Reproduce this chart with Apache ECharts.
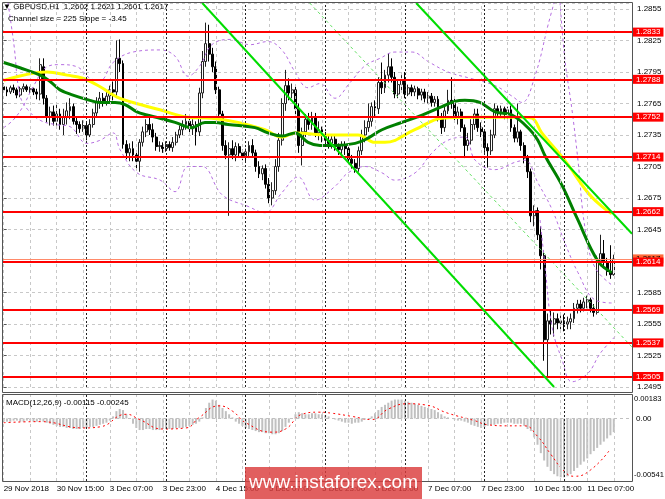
<!DOCTYPE html>
<html><head><meta charset="utf-8">
<script src="https://cdn.jsdelivr.net/npm/echarts@6/dist/echarts.min.js"></script>
<style>html,body{margin:0;padding:0;background:#fff}#c{width:665px;height:499px}</style>
</head><body><div id="c"></div>
<script>
// ---------- data ----------
const tickLabels = ["29 Nov 2018","30 Nov 15:00","3 Dec 07:00","3 Dec 23:00","4 Dec 15:00","5 Dec 07:00","5 Dec 23:00","6 Dec 15:00","7 Dec 07:00","7 Dec 23:00","10 Dec 15:00","11 Dec 07:00"];
const slotCount = 190;
// [open, close, low, high]
const candles = [
[1.2781,1.2778,1.2775,1.2784],[1.2778,1.2776,1.2772,1.2781],[1.2776,1.2780,1.2774,1.2782],[1.2780,1.2778,1.2775,1.2783],
[1.2778,1.2773,1.2770,1.2780],[1.2773,1.2779,1.2771,1.2781],[1.2779,1.2781,1.2776,1.2784],[1.2781,1.2778,1.2776,1.2783],
[1.2778,1.2779,1.2775,1.2781],[1.2779,1.2776,1.2773,1.2780],[1.2776,1.2774,1.2769,1.2779],[1.2774,1.2802,1.2768,1.2808],
[1.2800,1.2770,1.2764,1.2808],[1.2770,1.2752,1.2747,1.2773],[1.2752,1.2757,1.2744,1.2762],[1.2757,1.2748,1.2744,1.2763],
[1.2748,1.2755,1.2744,1.2765],[1.2755,1.2745,1.2740,1.2760],[1.2745,1.2752,1.2735,1.2760],[1.2752,1.2758,1.2745,1.2766],
[1.2758,1.2762,1.2750,1.2770],[1.2762,1.2748,1.2745,1.2765],[1.2748,1.2745,1.2736,1.2752],[1.2745,1.2741,1.2737,1.2748],
[1.2741,1.2744,1.2738,1.2749],[1.2744,1.2735,1.2730,1.2747],[1.2735,1.2745,1.2733,1.2750],[1.2745,1.2756,1.2742,1.2760],
[1.2756,1.2767,1.2752,1.2771],[1.2767,1.2770,1.2760,1.2776],[1.2770,1.2766,1.2762,1.2775],[1.2766,1.2772,1.2763,1.2776],
[1.2772,1.2778,1.2766,1.2782],[1.2778,1.2776,1.2768,1.2786],[1.2776,1.2808,1.2772,1.2825],[1.2808,1.2803,1.2795,1.2826],
[1.2803,1.2726,1.2722,1.2806],[1.2726,1.2718,1.2712,1.2730],[1.2718,1.2722,1.2710,1.2727],[1.2722,1.2716,1.2710,1.2729],
[1.2716,1.2710,1.2703,1.2720],[1.2710,1.2728,1.2700,1.2731],[1.2728,1.2738,1.2724,1.2743],[1.2738,1.2745,1.2733,1.2750],
[1.2745,1.2740,1.2735,1.2755],[1.2740,1.2733,1.2728,1.2746],[1.2733,1.2724,1.2720,1.2737],[1.2724,1.2725,1.2719,1.2729],
[1.2725,1.2722,1.2718,1.2728],[1.2722,1.2726,1.2719,1.2729],[1.2726,1.2723,1.2720,1.2729],[1.2723,1.2728,1.2719,1.2733],
[1.2728,1.2735,1.2725,1.2738],[1.2735,1.2740,1.2732,1.2744],[1.2740,1.2745,1.2735,1.2749],[1.2745,1.2748,1.2740,1.2755],
[1.2748,1.2741,1.2737,1.2752],[1.2741,1.2745,1.2735,1.2750],[1.2745,1.2738,1.2725,1.2748],[1.2738,1.2775,1.2734,1.2780],
[1.2775,1.2805,1.2770,1.2815],[1.2805,1.2822,1.2800,1.2842],[1.2822,1.2812,1.2805,1.2840],[1.2812,1.2800,1.2795,1.2818],
[1.2800,1.2778,1.2774,1.2805],[1.2778,1.2755,1.2750,1.2781],[1.2755,1.2725,1.2720,1.2758],[1.2725,1.2716,1.2712,1.2730],
[1.2716,1.2722,1.2658,1.2728],[1.2722,1.2716,1.2712,1.2730],[1.2716,1.2724,1.2710,1.2728],[1.2724,1.2718,1.2714,1.2727],
[1.2718,1.2715,1.2711,1.2721],[1.2715,1.2719,1.2709,1.2722],[1.2719,1.2725,1.2713,1.2729],[1.2725,1.2718,1.2714,1.2731],
[1.2718,1.2705,1.2700,1.2721],[1.2705,1.2698,1.2694,1.2710],[1.2698,1.2703,1.2692,1.2706],[1.2703,1.2688,1.2684,1.2707],
[1.2688,1.2675,1.2670,1.2694],[1.2675,1.2682,1.2668,1.2690],[1.2682,1.2705,1.2678,1.2712],[1.2705,1.2730,1.2700,1.2737],
[1.2730,1.2765,1.2725,1.2770],[1.2765,1.2782,1.2758,1.2797],[1.2782,1.2775,1.2768,1.2789],[1.2775,1.2778,1.2770,1.2784],
[1.2778,1.2760,1.2755,1.2782],[1.2760,1.2725,1.2718,1.2765],[1.2725,1.2738,1.2706,1.2742],[1.2738,1.2750,1.2733,1.2755],
[1.2750,1.2745,1.2740,1.2756],[1.2745,1.2752,1.2740,1.2757],[1.2752,1.2737,1.2733,1.2756],[1.2737,1.2740,1.2730,1.2748],
[1.2740,1.2735,1.2728,1.2743],[1.2735,1.2730,1.2725,1.2738],[1.2730,1.2727,1.2722,1.2734],[1.2727,1.2731,1.2722,1.2735],
[1.2731,1.2724,1.2720,1.2735],[1.2724,1.2721,1.2716,1.2727],[1.2721,1.2725,1.2717,1.2729],[1.2725,1.2722,1.2716,1.2729],
[1.2722,1.2712,1.2707,1.2725],[1.2712,1.2708,1.2703,1.2716],[1.2708,1.2703,1.2699,1.2712],[1.2703,1.2720,1.2700,1.2724],
[1.2720,1.2735,1.2716,1.2740],[1.2735,1.2742,1.2728,1.2749],[1.2742,1.2748,1.2738,1.2765],[1.2748,1.2762,1.2743,1.2766],
[1.2762,1.2760,1.2752,1.2768],[1.2760,1.2785,1.2755,1.2790],[1.2785,1.2780,1.2774,1.2804],[1.2780,1.2792,1.2775,1.2797],
[1.2792,1.2800,1.2785,1.2813],[1.2800,1.2790,1.2785,1.2808],[1.2790,1.2774,1.2770,1.2795],[1.2774,1.2783,1.2770,1.2788],
[1.2783,1.2787,1.2776,1.2792],[1.2787,1.2774,1.2770,1.2795],[1.2774,1.2780,1.2772,1.2783],[1.2780,1.2776,1.2772,1.2783],
[1.2776,1.2779,1.2772,1.2782],[1.2779,1.2773,1.2769,1.2781],[1.2773,1.2776,1.2768,1.2779],[1.2776,1.2770,1.2766,1.2779],
[1.2770,1.2772,1.2765,1.2776],[1.2772,1.2766,1.2762,1.2775],[1.2766,1.2769,1.2762,1.2772],[1.2769,1.2752,1.2748,1.2772],
[1.2752,1.2742,1.2736,1.2756],[1.2742,1.2758,1.2738,1.2762],[1.2758,1.2768,1.2755,1.2778],[1.2768,1.2765,1.2760,1.2790],
[1.2765,1.2752,1.2748,1.2770],[1.2752,1.2757,1.2745,1.2762],[1.2757,1.2742,1.2738,1.2760],[1.2742,1.2725,1.2713,1.2745],
[1.2725,1.2730,1.2720,1.2737],[1.2730,1.2745,1.2726,1.2750],[1.2745,1.2755,1.2740,1.2760],[1.2755,1.2742,1.2738,1.2760],
[1.2742,1.2738,1.2733,1.2747],[1.2738,1.2723,1.2718,1.2740],[1.2723,1.2720,1.2704,1.2727],[1.2720,1.2735,1.2716,1.2740],
[1.2735,1.2760,1.2732,1.2765],[1.2760,1.2757,1.2753,1.2763],[1.2757,1.2760,1.2753,1.2763],[1.2760,1.2755,1.2750,1.2762],
[1.2755,1.2759,1.2750,1.2762],[1.2759,1.2742,1.2738,1.2763],[1.2742,1.2732,1.2728,1.2745],[1.2732,1.2738,1.2728,1.2765],
[1.2738,1.2725,1.2720,1.2740],[1.2725,1.2713,1.2708,1.2728],[1.2713,1.2700,1.2694,1.2716],[1.2700,1.2658,1.2652,1.2703],
[1.2658,1.2663,1.2648,1.2668],[1.2663,1.2640,1.2635,1.2666],[1.2640,1.2620,1.2607,1.2648],[1.2620,1.2540,1.2520,1.2625],
[1.2540,1.2558,1.2505,1.2565],[1.2558,1.2555,1.2545,1.2568],[1.2555,1.2560,1.2543,1.2566],[1.2560,1.2556,1.2550,1.2565],
[1.2556,1.2558,1.2550,1.2563],[1.2558,1.2555,1.2548,1.2564],[1.2555,1.2557,1.2550,1.2562],[1.2557,1.2560,1.2550,1.2565],
[1.2560,1.2570,1.2556,1.2575],[1.2570,1.2574,1.2565,1.2578],[1.2574,1.2570,1.2566,1.2578],[1.2570,1.2576,1.2567,1.2580],
[1.2576,1.2578,1.2570,1.2582],[1.2578,1.2570,1.2566,1.2580],[1.2570,1.2566,1.2562,1.2574],[1.2566,1.2615,1.2564,1.2620],
[1.2615,1.2622,1.2610,1.2640],[1.2622,1.2614,1.2608,1.2635],[1.2614,1.2605,1.2601,1.2618],[1.2605,1.2602,1.2598,1.2630],
[1.2602,1.2617,1.2601,1.2621]
];
const macdHist = [
-0.0003,-0.0003,-0.0003,-0.0002,-0.0002,-0.0003,-0.0003,-0.0002,-0.0002,-0.0003,-0.0003,-0.0002,-0.0003,-0.0004,
-0.0005,-0.0006,-0.0007,-0.0008,-0.0008,-0.0009,-0.0009,-0.0010,-0.0010,-0.0010,-0.0009,
-0.0009,-0.0008,-0.0008,-0.0007,-0.0006,-0.0005,-0.0004,-0.0002,
0.0002,0.0007,0.0009,0.0008,
0.0004,0.0000,-0.0005,
-0.0009,-0.0011,-0.0011,-0.0010,-0.0010,-0.0011,-0.0011,-0.0011,-0.0010,
-0.0010,-0.0010,-0.0010,-0.0009,-0.0009,-0.0009,-0.0008,-0.0007,-0.0006,-0.0005,-0.0003,0.0001,
0.0010,0.0015,0.0018,0.0017,0.0013,
0.0010,0.0007,0.0004,0.0001,-0.0003,
-0.0005,-0.0007,-0.0009,-0.0010,-0.0011,-0.0012,-0.0013,-0.0013,-0.0014,-0.0014,-0.0015,-0.0015,-0.0014,-0.0012,-0.0008,-0.0004,0.0000,
0.0004,0.0006,0.0005,0.0004,0.0004,0.0005,0.0005,0.0004,0.0004,0.0003,0.0002,0.0000,
-0.0001,-0.0002,-0.0003,-0.0004,-0.0004,-0.0005,-0.0004,-0.0004,-0.0003,-0.0001,0.0000,0.0002,
0.0005,0.0008,0.0011,0.0013,0.0015,0.0017,0.0018,0.0018,0.0018,0.0017,
0.0016,0.0015,0.0014,0.0013,0.0012,0.0011,0.0010,0.0009,0.0008,0.0006,0.0004,
0.0002,0.0001,0.0000,-0.0001,-0.0002,-0.0002,-0.0003,-0.0004,-0.0006,
-0.0007,-0.0008,-0.0009,-0.0008,-0.0007,-0.0006,-0.0006,-0.0005,
-0.0005,-0.0004,-0.0004,-0.0004,-0.0005,-0.0005,-0.0005,-0.0007,-0.0010,
-0.0012,-0.0018,-0.0025,-0.0033,-0.0040,-0.0046,-0.0050,-0.0053,-0.0055,-0.0056,-0.0056,
-0.0055,-0.0053,-0.0050,-0.0047,-0.0044,-0.0041,-0.0038,-0.0034,-0.0031,-0.0028,-0.0025,-0.0022,-0.0019,-0.0016,-0.0013
];
const macdSignal = [[0,-0.0004],[11,-0.0003],[24,-0.0009],[29,-0.0008],[37,0.0004],[41,-0.0001],[48,-0.0010],[55,-0.0009],[59,0.0001],[65,0.0012],[69,0.0007],[73,-0.0004],[81,-0.0013],[85,-0.0010],[90,0.0004],[95,0.0006],[99,0.0005],[105,0.0002],[111,-0.0001],[116,0.0009],[122,0.0014],[127,0.0013],[134,0.0005],[142,-0.0002],[146,-0.0006],[152,-0.0007],[157,-0.0007],[161,-0.0017],[165,-0.0034],[169,-0.0050],[172,-0.0055],[177,-0.0049],[183,-0.0029]];
const yellowMA = [[0,1.2787],[13.1,1.2795],[19.1,1.2792],[23.9,1.2789],[29.1,1.2781],[34.2,1.2771],[39,1.2766],[47.1,1.2759],[55.6,1.2752],[62.8,1.2751],[70.7,1.2747],[78.8,1.2740],[84,1.2733],[87.9,1.2737],[97.8,1.2735],[106.9,1.2735],[112,1.2728],[115,1.2728],[124,1.2740],[132.2,1.2751],[142.1,1.2752],[156.2,1.2752],[159.3,1.2751],[162.3,1.2737],[169.2,1.2711],[176.2,1.2680],[180.4,1.2667],[183.4,1.2660]];
const greenMA = [[0,1.2804],[4.9,1.2799],[11,1.2792],[14,1.2786],[17,1.2778],[20.9,1.2773],[26,1.2768],[29,1.2766],[33.6,1.2766],[36.6,1.2764],[40.2,1.2757],[43.2,1.2754],[47.1,1.2751],[51.7,1.2747],[56.8,1.2742],[60.7,1.2747],[63.7,1.2747],[67.7,1.2745],[75.8,1.2742],[79.7,1.2737],[84,1.2734],[87.9,1.2737],[91.8,1.2728],[95.4,1.2725],[99.9,1.2725],[106,1.2727],[109.9,1.2732],[114.1,1.2740],[120.1,1.2747],[126.2,1.2754],[132.2,1.2762],[136.1,1.2767],[139.1,1.2768],[143.6,1.2766],[148.2,1.2757],[153.3,1.2754],[158.7,1.2740],[161.1,1.2730],[163.3,1.2715],[168.4,1.2687],[172.9,1.2656],[179.2,1.2615],[183.4,1.2604]];
const bandUpper = [[0,1.2742],[2.8,1.2749],[5.8,1.2762],[8.9,1.2781],[13.1,1.2800],[17,1.2802],[22.1,1.2800],[26,1.2789],[29.1,1.2787],[33,1.2804],[39,1.2814],[47.2,1.2816],[51.7,1.2810],[55.6,1.2791],[59.2,1.2801],[62.8,1.2821],[68.3,1.2826],[74.3,1.2821],[79.7,1.2824],[83.9,1.2816],[87.9,1.2795],[91.8,1.2780],[95.4,1.2784],[99.9,1.2770],[104.5,1.2785],[109,1.2801],[113.5,1.2808],[118,1.2814],[123.2,1.2814],[128,1.2805],[134,1.2795],[140.7,1.2789],[148.2,1.2782],[153.3,1.2772],[156.3,1.2766],[160.3,1.2792],[164.2,1.2840],[166,1.2861]];
const bandLower = [[1.3,1.2861],[3.1,1.2821],[4.9,1.2773],[7.3,1.2759],[11,1.2749],[15.5,1.2745],[20,1.2743],[25.1,1.2727],[29.1,1.2730],[33,1.2737],[35.1,1.2721],[40.2,1.2699],[47.2,1.2692],[51.7,1.2681],[55.6,1.2705],[59.8,1.2705],[65.9,1.2678],[73.7,1.2667],[78.8,1.2661],[83.9,1.2680],[88.8,1.2695],[93.9,1.2673],[99.9,1.2686],[103.9,1.2699],[109,1.2705],[114.1,1.2699],[118,1.2692],[124.1,1.2699],[129.2,1.2718],[134,1.2730],[139.1,1.2733],[142.2,1.2711],[148.2,1.2702],[154.2,1.2709],[157.2,1.2711],[161.2,1.2689],[165.4,1.2664],[169.3,1.2632],[173.2,1.2604],[178.3,1.2578],[183.5,1.2575]];
const bandUpperReturn = [[167.8,1.2861],[169.3,1.2806],[171.4,1.2759],[173.2,1.2711],[175.3,1.2647],[178.3,1.2609],[183.5,1.2592]];
const bandLowest = [[161.8,1.2654],[163.3,1.2609],[165.4,1.2552],[168.4,1.2521],[171.4,1.2500],[176.2,1.2508],[179.9,1.2527],[184.4,1.2543]];
const channelLower = [[59.9,1.28607],[166.0,1.2495]];
const channelUpper = [[124.4,1.28607],[189.5,1.2641]];
const channelMid = [[92.3,1.28607],[189.5,1.2533]];
const levels = [1.2833,1.2788,1.2752,1.2714,1.2662,1.2614,1.2569,1.2537,1.2505];
const currentPrice = 1.2617;
const macdLabelValues = [0.00183, -0.00541];
const gridLineIdx = [0,8,16,24,32,40,48,56,64,72,80,88,96,104,112,120,128,136,144,152,160,168,176,184];
const daySeparatorIdx = [25,49,73,97,121,145,169];

// ---------- chart ----------
const FONT = '"Liberation Sans", Arial, sans-serif';
const categories = Array.from({length: slotCount}, (_, i) => String(i));
const chart = echarts.init(document.getElementById('c'), null, {renderer: 'canvas'});

const vLines = [
  ...gridLineIdx.map(i => ({xAxis: i, lineStyle: {color: '#c8c8c8', type: [3, 3], width: 1}})),
  ...daySeparatorIdx.map(i => ({xAxis: i, lineStyle: {color: '#222', type: [2, 2], width: 1}}))
];
const vMark = {silent: true, symbol: ['none', 'none'], precision: 6, label: {show: false}, animation: false, data: vLines};

function overlay(data, color, width, type, z, smooth) {
  return {type: 'line', xAxisIndex: 1, yAxisIndex: 0, data, showSymbol: false, symbol: 'none',
    smooth: smooth, silent: true, z, lineStyle: {color, width, type}};
}
const PURPLE = '#b56ee0';

const option = {
  animation: false,
  backgroundColor: '#ffffff',
  textStyle: {fontFamily: FONT},
  title: [
    {text: '▼ GBPUSD,H1  1.2602 1.2621 1.2601 1.2617', left: 3, top: 3, padding: 0,
     textStyle: {fontSize: 8, fontWeight: 'normal', color: '#000', fontFamily: FONT}},
    {text: 'Channel size = 225 Slope = -3.45', left: 8, top: 15, padding: 0,
     textStyle: {fontSize: 8, fontWeight: 'normal', color: '#000', fontFamily: FONT}},
    {text: 'MACD(12,26,9) -0.00115 -0.00245', left: 6, top: 399, padding: 0,
     textStyle: {fontSize: 8, fontWeight: 'normal', color: '#000', fontFamily: FONT}}
  ],
  grid: [
    {left: 2, right: 33, top: 3, height: 384},
    {left: 2, right: 33, top: 394, height: 87}
  ],
  xAxis: [
    {type: 'category', gridIndex: 0, data: categories, show: false},
    {type: 'value', gridIndex: 0, min: -0.5, max: slotCount - 0.5, show: false},
    {type: 'category', gridIndex: 1, data: categories,
     axisLine: {show: false},
     axisTick: {show: true, interval: 15, alignWithLabel: true, length: 3, lineStyle: {color: '#555'}},
     axisLabel: {interval: 15, align: 'left', margin: 4, fontSize: 8, color: '#000', fontFamily: FONT,
       formatter: (v, i) => (i % 16 === 0 && tickLabels[i / 16]) ? tickLabels[i / 16] : ''},
     splitLine: {show: false}}
  ],
  yAxis: [
    {type: 'value', gridIndex: 0, position: 'right', min: 1.2495, max: 1.28607, interval: 0.003,
     axisLine: {show: false},
     axisTick: {show: true, length: 3, lineStyle: {color: '#555'}},
     axisLabel: {showMaxLabel: false, margin: 5, fontSize: 8, color: '#000', fontFamily: FONT,
       formatter: v => v.toFixed(4)},
     splitLine: {show: true, lineStyle: {color: '#c8c8c8', type: [3, 3]}}},
    {type: 'value', gridIndex: 1, position: 'right', min: -0.00595, max: 0.00233,
     axisLine: {show: false}, axisTick: {show: false}, axisLabel: {show: false}, splitLine: {show: false}}
  ],
  series: [
    {type: 'candlestick', xAxisIndex: 0, yAxisIndex: 0, data: candles, barWidth: 2.4, z: 2,
     itemStyle: {color: '#ffffff', color0: '#000000', borderColor: '#222222', borderColor0: '#000000', borderWidth: 1},
     markLine: vMark},
    overlay(bandUpper, PURPLE, 1, [3, 3], 3, 0.4),
    overlay(bandLower, PURPLE, 1, [3, 3], 3, 0.4),
    overlay(bandUpperReturn, PURPLE, 1, [3, 3], 3, 0.4),
    overlay(bandLowest, PURPLE, 1, [3, 3], 3, 0.4),
    overlay(yellowMA, '#ffff00', 3, 'solid', 4, 0.4),
    overlay(greenMA, '#008000', 3, 'solid', 4, 0.4),
    Object.assign(overlay(channelMid, '#66e066', 1, [3, 3], 4, false), {
      markLine: {silent: true, symbol: ['none', 'none'], animation: false, precision: 6,
        data: [{yAxis: currentPrice}],
        lineStyle: {color: '#ff8a6a', width: 1, type: 'solid'},
        label: {show: true, position: 'end', distance: 1, formatter: currentPrice.toFixed(4),
          backgroundColor: '#ff6a3a', color: '#000', fontSize: 8, padding: [1, 3, 0, 3], fontFamily: FONT}}
    }),
    overlay(channelLower, '#00dd00', 2, 'solid', 5, false),
    Object.assign(overlay(channelUpper, '#00dd00', 2, 'solid', 5, false), {
      markLine: {silent: true, symbol: ['none', 'none'], animation: false, precision: 6,
        data: levels.map(v => ({yAxis: v, label: {formatter: v.toFixed(4)}})),
        lineStyle: {color: '#ff0000', width: 2, type: 'solid'},
        label: {show: true, position: 'end', distance: 1,
          backgroundColor: '#ff0000', color: '#ffffff', fontSize: 8, padding: [1, 3, 0, 3], fontFamily: FONT}}
    }),
    {type: 'bar', xAxisIndex: 2, yAxisIndex: 1, data: macdHist, barWidth: 2, silent: true,
     itemStyle: {color: '#c0c0c0'},
     markLine: {silent: true, symbol: ['none', 'none'], animation: false, precision: 8,
       data: [
         ...vLines,
         {yAxis: 0, lineStyle: {color: '#c0c0c0', type: [3, 3], width: 1},
          label: {show: true, position: 'end', formatter: '0.00', color: '#000', fontSize: 8, distance: 4}},
         ...macdLabelValues.map(v => ({yAxis: v, lineStyle: {color: 'rgba(255,255,255,0)', width: 0.01},
          label: {show: true, position: 'end', formatter: v.toFixed(5), color: '#000', fontSize: 7.6, distance: 2}}))
       ],
       label: {show: false}}},
    {type: 'line', xAxisIndex: 2, yAxisIndex: 1, data: macdSignal, showSymbol: false, symbol: 'none',
     smooth: 0.5, silent: true, z: 4, lineStyle: {color: '#ff0000', width: 1, type: [2, 3]}}
  ],
  graphic: [
    {type: 'rect', silent: true, z: 10, shape: {x: 2.5, y: 2.5, width: 630, height: 390},
     style: {fill: 'none', stroke: '#555', lineWidth: 1}},
    {type: 'rect', silent: true, z: 10, shape: {x: 2.5, y: 394.5, width: 630, height: 87},
     style: {fill: 'none', stroke: '#555', lineWidth: 1}},
    {type: 'rect', silent: true, z: 20, shape: {x: 245, y: 467, width: 177, height: 32},
     style: {fill: 'rgba(218,60,60,0.82)'}},
    {type: 'text', silent: true, z: 21, x: 333.5, y: 483,
     style: {text: 'www.instaforex.com', fill: '#ffffff', font: '19px "Liberation Sans", Arial, sans-serif',
       textAlign: 'center', textVerticalAlign: 'middle'}}
  ]
};
chart.setOption(option);
</script>
</body></html>
